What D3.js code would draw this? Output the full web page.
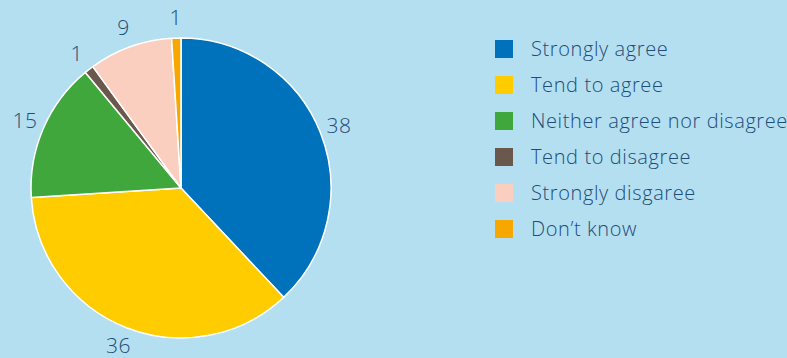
<!DOCTYPE html>
<html><head><meta charset="utf-8">
<script src="https://cdn.jsdelivr.net/npm/d3@7"></script>
<style>html,body{margin:0;padding:0;background:#b3dff0;}svg{display:block;}</style>
</head><body>
<svg id="c" width="787" height="358"></svg>
<script>
const categories = ["Strongly agree","Tend to agree","Neither agree nor disagree","Tend to disagree","Strongly disgaree","Don\u2019t know"];
const values = [38,36,15,1,9,1];
const colors = ["#0072bc","#ffcc00","#3fa73c","#6b584c","#fbcfc0","#f6a800"];

const svg = d3.select("#c");
const W=787,H=358;
svg.append("rect").attr("width",W).attr("height",H).attr("fill","#b3dff0");
const cx=181, cy=188, R=150;
const font = "'Open Sans', sans-serif";
const textColor = "#1f4d78";

const pie = d3.pie().sort(null).value(d=>d)(values);
const arc = d3.arc().innerRadius(0).outerRadius(R);
const labelArc = d3.arc().innerRadius(170).outerRadius(170);
const g = svg.append("g").attr("transform",`translate(${cx},${cy})`);
g.selectAll("path").data(pie).join("path")
  .attr("d",arc).attr("fill",(d,i)=>colors[i])
  .attr("stroke","#fff").attr("stroke-width",1.5).attr("stroke-linejoin","round");
g.selectAll("text").data(pie).join("text")
  .attr("transform",d=>`translate(${labelArc.centroid(d)})`)
  .attr("text-anchor","middle").attr("dy","0.35em")
  .attr("font-family",font).attr("font-weight",300).attr("font-size",21)
  .attr("letter-spacing",0.5)
  .attr("fill",textColor).text(d=>d.data);

const y = d3.scalePoint().domain(categories).range([49,229]);
const lg = svg.append("g");
const rows = lg.selectAll("g").data(categories).join("g")
  .attr("transform",d=>`translate(495,${y(d)})`);
rows.append("rect").attr("x",0).attr("y",-9).attr("width",18).attr("height",18)
  .attr("fill",(d,i)=>colors[i]);
rows.append("text").attr("x",36).attr("y",7).attr("font-family",font).attr("font-weight",300)
  .attr("font-size",20).attr("letter-spacing",0.6).attr("fill",textColor).text(d=>d);
</script>
</body></html>
